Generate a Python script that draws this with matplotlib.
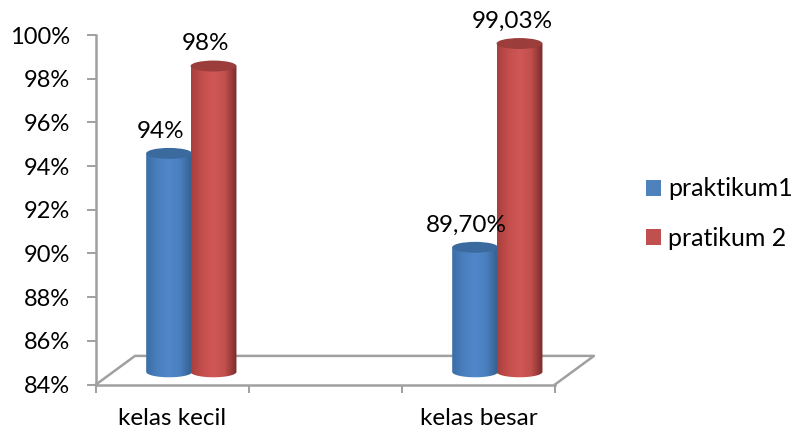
import numpy as np
import matplotlib
matplotlib.use('Agg')
import matplotlib.pyplot as plt
from matplotlib.colors import LinearSegmentedColormap
from matplotlib.patches import Ellipse, Patch, Polygon

categories = ['kelas kecil', '', 'kelas besar']
series_names = ['praktikum1', 'pratikum 2']
praktikum1 = [94, None, 89.70]
pratikum2 = [98, None, 99.03]
label1 = ['94%', '', '89,70%']
label2 = ['98%', '', '99,03%']
y_ticks = [84, 86, 88, 90, 92, 94, 96, 98, 100]

W, H = 800, 430
GRAY = '#a0a0a0'

plt.rcParams['font.family'] = ['Lato', 'DejaVu Sans']
fig = plt.figure(figsize=(W / 100, H / 100), dpi=100)

# plot area in pixels
left, right, top, bottom = 96, 555, 35, 384.5
ax = fig.add_axes([left / W, 1 - bottom / H, (right - left) / W, (bottom - top) / H])
ax.set_xlim(-0.5, 2.5)
ax.set_ylim(84, 100)

for s in ['top', 'right']:
    ax.spines[s].set_visible(False)
for s in ['left', 'bottom']:
    ax.spines[s].set_color(GRAY)
    ax.spines[s].set_linewidth(1.8)

ax.set_yticks(y_ticks)
ax.set_yticklabels(['%d%%' % v for v in y_ticks], fontsize=17, color='black')
ax.tick_params(axis='y', length=6.5, width=1.4, color=GRAY, pad=12)

ax.set_xticks([-0.5, 0.5, 1.5, 2.5])
ax.set_xticklabels([])
ax.tick_params(axis='x', which='major', length=5.5, width=1.4, color=GRAY)
ax.set_xticks([0, 1, 2], minor=True)
ax.set_xticklabels(categories, minor=True, fontsize=17.5)
ax.tick_params(axis='x', which='minor', length=0, pad=17)

# floor of the 3d box
floor_dx, floor_dy = 0.255, 1.31
ax.plot([-0.5, -0.5 + floor_dx, 2.5 + floor_dx, 2.5],
        [84, 84 + floor_dy, 84 + floor_dy, 84],
        color=GRAY, lw=1.8, clip_on=False, zorder=1)

blue_cmap = LinearSegmentedColormap.from_list('b', ['#3c6ea6', '#4a7fbe', '#5088cb', '#4a7fbe', '#33608f'])
red_cmap = LinearSegmentedColormap.from_list('r', ['#a8403d', '#c54f4d', '#d05856', '#c04f4c', '#7a2c2a'])
ramp = np.linspace(0, 1, 64).reshape(1, -1)

bar_w = 0.3
cap_h = 0.5
depth = 0.58


def cylinder(cx, value, cmap, cap_color, z):
    base = 84 + depth
    tp = value + depth
    t = np.linspace(np.pi, 2 * np.pi, 40)
    xs = cx + bar_w / 2 * np.cos(t)
    ys = base + cap_h / 2 * np.sin(t)
    outline = np.vstack([np.column_stack([xs, ys]), [cx + bar_w / 2, tp], [cx - bar_w / 2, tp]])
    body = Polygon(outline, closed=True, facecolor='none', edgecolor='none', zorder=z)
    ax.add_patch(body)
    im = ax.imshow(ramp, cmap=cmap, aspect='auto', zorder=z, interpolation='bilinear',
                   extent=(cx - bar_w / 2, cx + bar_w / 2, base - cap_h, tp))
    im.set_clip_path(body)
    ax.add_patch(Ellipse((cx, tp), bar_w, cap_h, facecolor=cap_color, edgecolor='none', zorder=z + 0.1))


# blue first so the red cylinder sits in front of it
for i in range(len(categories)):
    if praktikum1[i] is None:
        continue
    c1 = i - 0.022
    c2 = i + 0.268
    cylinder(c1, praktikum1[i], blue_cmap, '#3b6a9e', 3)
    cylinder(c2, pratikum2[i], red_cmap, '#9a3d3b', 4)
    ax.annotate(label1[i], (c1, praktikum1[i] + depth), xytext=(-6, 16),
                textcoords='offset points', ha='center', va='center', fontsize=17.5, zorder=6)
    ax.annotate(label2[i], (c2, pratikum2[i] + depth), xytext=(-5.5, 16),
                textcoords='offset points', ha='center', va='center', fontsize=17.5, zorder=6,
                annotation_clip=False)

ax.set_xlim(-0.5, 2.5)
ax.set_ylim(84, 100)

handles = [Patch(facecolor='#4f81bd'), Patch(facecolor='#c0504d')]
fig.legend(handles, series_names, loc='center left', bbox_to_anchor=(646 / W, 1 - 213.5 / H),
           frameon=False, fontsize=18, handlelength=0.6, handleheight=0.6,
           handletextpad=0.28, labelspacing=1.05, borderpad=0, borderaxespad=0)

fig.savefig('out.png', dpi=100)
